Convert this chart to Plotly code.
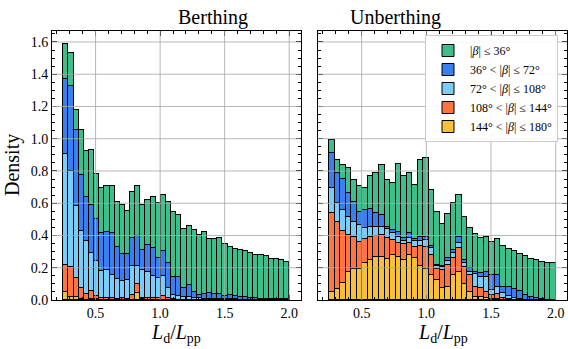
import numpy as np
import plotly.graph_objects as go

# ---------------- data ----------------
bin_range = (0.25, 2.0)
berthing_nbins = 44
unberthing_nbins = 41

categories = [
    "|<i>β</i>| ≤ 36°",
    "36° < |<i>β</i>| ≤ 72°",
    "72° < |<i>β</i>| ≤ 108°",
    "108° < |<i>β</i>| ≤ 144°",
    "144° < |<i>β</i>| ≤ 180°",
]
colors = ["#3DBE8B", "#3A7FF0", "#7ACDF8", "#FF7440", "#F8BF3A"]

# Berthing: stacked tops (cumulative density) read per bin, from top layer to bottom layer
berthing_top_le36 = [1.590, 1.533, 1.179, 1.057, 0.927, 0.931, 0.784, 0.695, 0.709, 0.705, 0.608, 0.587,
                     0.550, 0.670, 0.705, 0.592, 0.623, 0.637, 0.600, 0.654, 0.610, 0.545, 0.525, 0.442,
                     0.461, 0.434, 0.405, 0.420, 0.376, 0.377, 0.385, 0.346, 0.331, 0.317, 0.308, 0.302,
                     0.289, 0.277, 0.276, 0.271, 0.254, 0.253, 0.250, 0.238]
berthing_top_le72 = [1.373, 1.326, 1.053, 0.778, 0.639, 0.592, 0.505, 0.416, 0.422, 0.416, 0.327, 0.285,
                     0.285, 0.385, 0.395, 0.312, 0.343, 0.323, 0.261, 0.302, 0.230, 0.142, 0.145, 0.072,
                     0.093, 0.052, 0.033, 0.036, 0.041, 0.035, 0.040, 0.027, 0.031, 0.027, 0.021, 0.017,
                     0.012, 0.010, 0.008, 0.008, 0.006, 0.005, 0.005, 0.004]
berthing_top_le108 = [0.906, 0.798, 0.581, 0.426, 0.364, 0.290, 0.244, 0.178, 0.188, 0.157, 0.132, 0.120,
                      0.126, 0.209, 0.209, 0.188, 0.174, 0.147, 0.137, 0.147, 0.074, 0.033, 0.027, 0.017,
                      0.020, 0.012, 0.010, 0.008, 0.008, 0.006, 0.006, 0.005, 0.005, 0.004, 0.003, 0.003,
                      0.002, 0.002, 0.002, 0.001, 0.001, 0.001, 0.001, 0.001]
berthing_top_le144 = [0.219, 0.207, 0.137, 0.074, 0.039, 0.054, 0.023, 0.012, 0.012, 0.010, 0.008, 0.010,
                      0.005, 0.033, 0.101, 0.015, 0.010, 0.010, 0.015, 0.023, 0.010, 0.005, 0.003, 0.002,
                      0.002, 0.001, 0.001, 0.001, 0, 0, 0, 0, 0, 0, 0, 0, 0, 0, 0, 0, 0, 0, 0, 0]
berthing_top_le180 = [0.048, 0.017, 0.017, 0.005, 0.003, 0.005, 0.008, 0.003, 0.003, 0, 0, 0,
                      0, 0.003, 0.043, 0.008, 0, 0, 0, 0, 0, 0, 0, 0,
                      0, 0, 0, 0, 0, 0, 0, 0, 0, 0, 0, 0, 0, 0, 0, 0, 0, 0, 0, 0]

# Unberthing
unberthing_top_le36 = [0.990, 0.868, 0.837, 0.821, 0.744, 0.707, 0.693, 0.769, 0.785, 0.837, 0.744,
                       0.728, 0.845, 0.769, 0.790, 0.711, 0.866, 0.881, 0.682, 0.548, 0.469, 0.533,
                       0.600, 0.653, 0.515, 0.444, 0.409, 0.382, 0.393, 0.357, 0.380, 0.333, 0.314,
                       0.302, 0.287, 0.275, 0.256, 0.248, 0.238, 0.227, 0.230]
unberthing_top_le72 = [0.914, 0.786, 0.748, 0.661, 0.610, 0.548, 0.558, 0.562, 0.537, 0.527, 0.455,
                       0.434, 0.424, 0.382, 0.413, 0.376, 0.393, 0.389, 0.335, 0.217, 0.211, 0.258,
                       0.310, 0.389, 0.248, 0.196, 0.176, 0.165, 0.176, 0.155, 0.155, 0.083, 0.083,
                       0.066, 0.058, 0.031, 0.021, 0.010, 0.005, 0.003, 0.0]
unberthing_top_le108 = [0.693, 0.600, 0.558, 0.517, 0.482, 0.465, 0.444, 0.451, 0.451, 0.451, 0.438,
                        0.418, 0.393, 0.368, 0.382, 0.368, 0.368, 0.372, 0.320, 0.211, 0.203, 0.244,
                        0.289, 0.351, 0.232, 0.176, 0.161, 0.141, 0.145, 0.062, 0.083, 0.041, 0.025,
                        0.010, 0.005, 0.003, 0, 0, 0, 0, 0]
unberthing_top_le144 = [0.537, 0.486, 0.430, 0.403, 0.393, 0.362, 0.376, 0.393, 0.397, 0.403, 0.382,
                        0.372, 0.351, 0.347, 0.356, 0.331, 0.335, 0.327, 0.279, 0.190, 0.186, 0.217,
                        0.258, 0.320, 0.207, 0.155, 0.083, 0.072, 0.052, 0.031, 0.037, 0.010, 0.005,
                        0.003, 0, 0, 0, 0, 0, 0, 0]
unberthing_top_le180 = [0.052, 0.066, 0.107, 0.176, 0.192, 0.192, 0.232, 0.248, 0.265, 0.265, 0.252,
                        0.279, 0.265, 0.248, 0.279, 0.258, 0.211, 0.190, 0.155, 0.124, 0.072, 0.083,
                        0.155, 0.176, 0.099, 0.052, 0.021, 0.017, 0.010, 0.005, 0.005, 0.003, 0,
                        0, 0, 0, 0, 0, 0, 0, 0]

x_ticks = [0.5, 1.0, 1.5, 2.0]
y_ticks = [0.0, 0.2, 0.4, 0.6, 0.8, 1.0, 1.2, 1.4, 1.6]

# ---------------- figure ----------------
FONT = "Liberation Serif, Times New Roman, serif"
W, H = 568, 349


def layers_from_tops(tops):
    # tops: list ordered top layer -> bottom layer (cumulative); return heights bottom -> top
    arr = np.array(tops, dtype=float)[::-1]
    base = np.vstack([np.zeros(arr.shape[1]), arr[:-1]])
    return np.clip(arr - base, 0, None)


fig = go.Figure()

panels = [
    ([berthing_top_le36, berthing_top_le72, berthing_top_le108, berthing_top_le144, berthing_top_le180],
     berthing_nbins, "x", "y", False),
    ([unberthing_top_le36, unberthing_top_le72, unberthing_top_le108, unberthing_top_le144, unberthing_top_le180],
     unberthing_nbins, "x2", "y2", True),
]

for tops, nb, xa, ya, show in panels:
    edges = np.linspace(bin_range[0], bin_range[1], nb + 1)
    centers = 0.5 * (edges[:-1] + edges[1:])
    width = edges[1] - edges[0]
    heights = layers_from_tops(tops)  # bottom (144-180) -> top (<=36)
    for k in range(5):
        cat_idx = 4 - k
        fig.add_trace(go.Bar(
            x=centers, y=heights[k], width=width,
            marker=dict(color=colors[cat_idx], line=dict(color="black", width=1)),
            name=categories[cat_idx], legendgroup=str(cat_idx), showlegend=show,
            xaxis=xa, yaxis=ya,
        ))

xdom1 = [52 / W, 300.5 / W]
xdom2 = [318 / W, 567 / W]
ydom = [(H - 300) / H, (H - 31) / H]
xr = [0.1625, 2.0875]
yr = [0, 1.668]

axis_common = dict(
    showline=True, linecolor="black", linewidth=1, mirror="allticks",
    ticks="inside", ticklen=5, tickwidth=1, tickcolor="black",
    showgrid=False, zeroline=False, automargin=False,
    tickfont=dict(family=FONT, size=14, color="black"),
)

fig.update_layout(
    width=W, height=H,
    margin=dict(l=0, r=0, t=0, b=0, autoexpand=False),
    paper_bgcolor="white", plot_bgcolor="white",
    barmode="stack", bargap=0,
    showlegend=True,
    font=dict(family=FONT, color="black"),
    xaxis=dict(domain=xdom1, range=xr, tickvals=x_ticks, tickformat=".1f", anchor="y",
               minor=dict(ticks="inside", ticklen=3, dtick=0.1, tick0=0, tickcolor="black", showgrid=False),
               **axis_common),
    xaxis2=dict(domain=xdom2, range=xr, tickvals=x_ticks, tickformat=".1f", anchor="y2",
                minor=dict(ticks="inside", ticklen=3, dtick=0.1, tick0=0, tickcolor="black", showgrid=False),
                **axis_common),
    yaxis=dict(domain=ydom, range=yr, tickvals=y_ticks, tickformat=".1f", anchor="x",
               minor=dict(ticks="inside", ticklen=3, dtick=0.05, tick0=0, tickcolor="black", showgrid=False),
               **axis_common),
    yaxis2=dict(domain=ydom, range=yr, tickvals=y_ticks, showticklabels=False, anchor="x2", matches="y",
                minor=dict(ticks="inside", ticklen=3, dtick=0.05, tick0=0, tickcolor="black", showgrid=False),
                **axis_common),
    legend=dict(
        x=425 / W, y=(H - 35) / H, xanchor="left", yanchor="top",
        traceorder="reversed", bgcolor="rgba(255,255,255,0.9)",
        bordercolor="#cccccc", borderwidth=1,
        font=dict(family=FONT, size=12, color="black"),
        tracegroupgap=0, itemwidth=34,
    ),
)

# gridlines drawn above bars (as in the reference)
grid_color = "rgba(170,170,170,0.85)"
for xa, ya in [("x", "y"), ("x2", "y2")]:
    for v in y_ticks[1:]:
        fig.add_shape(type="line", xref=f"{xa} domain", yref=ya, x0=0, x1=1, y0=v, y1=v,
                      line=dict(color=grid_color, width=1), layer="above")
    for v in x_ticks:
        fig.add_shape(type="line", xref=xa, yref=f"{ya} domain", x0=v, x1=v, y0=0, y1=1,
                      line=dict(color=grid_color, width=1), layer="above")

# titles and labels
fig.add_annotation(text="Berthing", x=(xdom1[0] + xdom1[1]) / 2, y=(H - 17) / H, xref="paper", yref="paper",
                   showarrow=False, font=dict(family=FONT, size=20, color="black"), yanchor="middle")
fig.add_annotation(text="Unberthing", x=(xdom2[0] + xdom2[1]) / 2, y=(H - 17) / H, xref="paper", yref="paper",
                   showarrow=False, font=dict(family=FONT, size=20, color="black"), yanchor="middle")
fig.add_annotation(text="Density", x=12 / W, y=(H - 165) / H, xref="paper", yref="paper", textangle=-90,
                   showarrow=False, font=dict(family=FONT, size=20, color="black"),
                   xanchor="center", yanchor="middle")
xlabel = "<i>L</i><sub>d</sub>/<i>L</i><sub>pp</sub>"
for dom in (xdom1, xdom2):
    fig.add_annotation(text=xlabel, x=(dom[0] + dom[1]) / 2, y=(H - 333) / H, xref="paper", yref="paper",
                       showarrow=False, font=dict(family=FONT, size=20, color="black"),
                       xanchor="center", yanchor="middle")

fig.write_html("out.html")
